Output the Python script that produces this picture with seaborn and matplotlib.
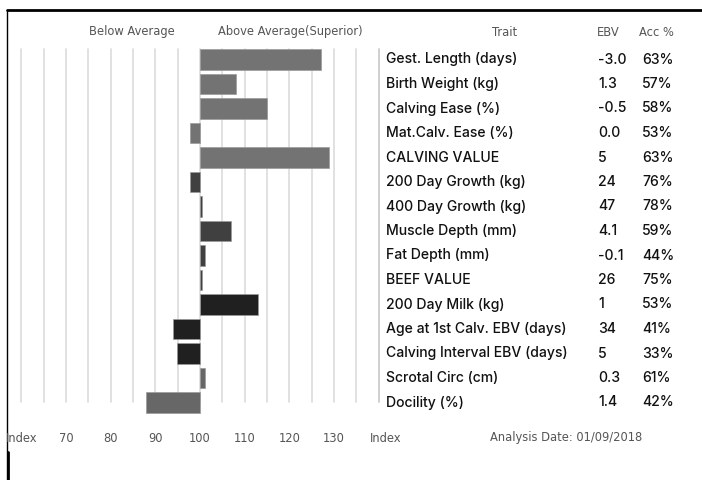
import numpy as np
import pandas as pd
import matplotlib
matplotlib.use("Agg")
import matplotlib.pyplot as plt
import seaborn as sns

# EBV chart data (index 100 = breed average)
traits = ["Gest. Length (days)", "Birth Weight (kg)", "Calving Ease (%)",
          "Mat.Calv. Ease (%)", "CALVING VALUE", "200 Day Growth (kg)",
          "400 Day Growth (kg)", "Muscle Depth (mm)", "Fat Depth (mm)",
          "BEEF VALUE", "200 Day Milk (kg)", "Age at 1st Calv. EBV (days)",
          "Calving Interval EBV (days)", "Scrotal Circ (cm)", "Docility (%)"]
index_vals = [127.0, 108.0, 115.0, 97.8, 128.9, 97.8, 100.4, 107.0, 101.1,
              100.4, 113.0, 93.9, 94.9, 101.1, 87.9]
ebv = ["-3.0", "1.3", "-0.5", "0.0", "5", "24", "47", "4.1", "-0.1", "26",
       "1", "34", "5", "0.3", "1.4"]
acc = ["63%", "57%", "58%", "53%", "63%", "76%", "78%", "59%", "44%", "75%",
       "53%", "41%", "33%", "61%", "42%"]
groups = ["calving"] * 5 + ["beef"] * 5 + ["maternal"] * 3 + ["other"] * 2
tick_vals = [60, 70, 80, 90, 100, 110, 120, 130]
tick_labels = ["Index", "70", "80", "90", "100", "110", "120", "130"]

group_colors = {"calving": "#737373", "beef": "#404040",
                "maternal": "#202020", "other": "#676767"}

sns.set_style("white")
W, H = 702, 480
fig = plt.figure(figsize=(W / 100, H / 100), dpi=100)
ax = fig.add_axes([0, 0, 1, 1])

# pixel mapping: value 100 at x=200px, 4.467 px per index unit
PX_PER_UNIT = 4.467
ROW0, ROW_STEP = 59.5, 24.5


def py2y(py):
    return (py - ROW0) / ROW_STEP


df = pd.DataFrame({"trait": traits, "delta": np.array(index_vals) - 100})
palette = {t: group_colors[g] for t, g in zip(traits, groups)}

# grid lines every 5 from 60 to 135
for v in np.arange(60, 140, 5):
    ax.plot([v - 100, v - 100], [py2y(49), py2y(402)], color="#dcdcdc",
            lw=1.2, zorder=0)

sns.barplot(data=df, x="delta", y="trait", hue="trait", order=traits,
            hue_order=traits, palette=palette, legend=False, width=0.84,
            orient="h", edgecolor="#9a9a9a", linewidth=0.5, ax=ax, zorder=2)
ax.set_xlim(-200 / PX_PER_UNIT, (W - 200) / PX_PER_UNIT)
ax.set_ylim((H - ROW0) / ROW_STEP, -ROW0 / ROW_STEP)
ax.set_axis_off()


def fx(px):
    return px / W


def fy(py):
    return 1 - py / H


grey_font = dict(family="DejaVu Sans", size=8.3, color="#555555")
fig.text(fx(132), fy(32), "Below Average", ha="center", va="center", **grey_font)
fig.text(fx(290), fy(32), "Above Average(Superior)", ha="center", va="center", **grey_font)
fig.text(fx(505), fy(32), "Trait", ha="center", va="center", **grey_font)
fig.text(fx(597), fy(32), "EBV", ha="left", va="center", **grey_font)
fig.text(fx(639), fy(32), "Acc %", ha="left", va="center", **grey_font)

for v, lab in zip(tick_vals, tick_labels):
    fig.text(fx(200 + (v - 100) * PX_PER_UNIT), fy(438), lab, ha="center",
             va="center", **grey_font)
fig.text(fx(370), fy(438), "Index", ha="left", va="center", **grey_font)
fig.text(fx(490), fy(438), "Analysis Date: 01/09/2018", ha="left",
         va="center", **grey_font)

row_font = dict(family="Inter", size=10.1, weight="medium", color="#111111")
for i, (t, e, a) in enumerate(zip(traits, ebv, acc)):
    yy = fy(ROW0 + i * ROW_STEP)
    fig.text(fx(386), yy, t, ha="left", va="center", **row_font)
    fig.text(fx(598), yy, e, ha="left", va="center", **row_font)
    fig.text(fx(642), yy, a, ha="left", va="center", **row_font)

# table separator and frame lines
fig.add_artist(plt.Line2D([fx(379), fx(379)], [fy(49), fy(402)],
                          color="#cccccc", lw=1.3))
fig.add_artist(plt.Line2D([fx(7), fx(702)], [fy(10), fy(10)], color="black", lw=2))
fig.add_artist(plt.Line2D([fx(7), fx(7)], [fy(10), fy(480)], color="black", lw=1))
fig.add_artist(plt.Line2D([fx(7.5), fx(7.5)], [fy(452), fy(480)], color="black", lw=2))

fig.savefig("out.png", dpi=100)
